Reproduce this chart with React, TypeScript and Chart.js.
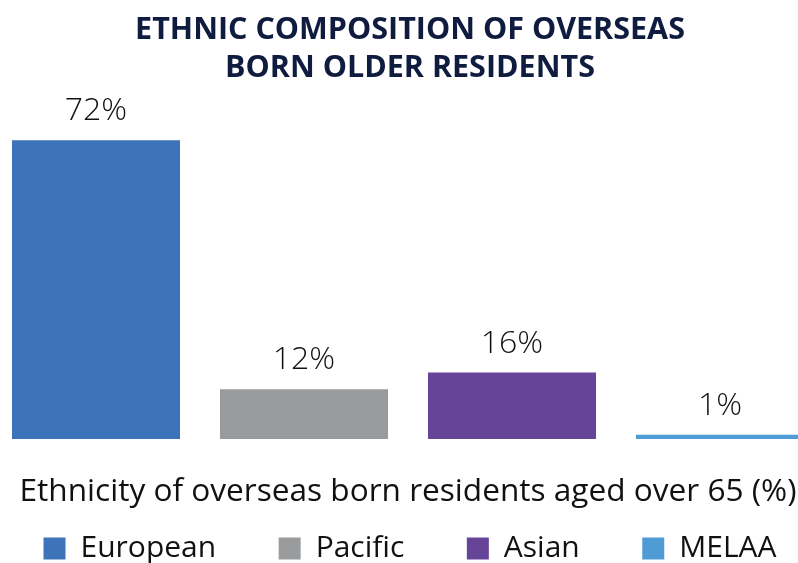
import React, { useEffect, useRef } from "react";
import { Chart, registerables } from "chart.js";

Chart.register(...registerables);

const titleLines = ["ETHNIC COMPOSITION OF OVERSEAS", "BORN OLDER RESIDENTS"];
const xAxisTitle = "Ethnicity of overseas born residents aged over 65 (%)";
const groups = ["European", "Pacific", "Asian", "MELAA"];
const values = [72, 12, 16, 1];
const colors = ["#3d73b9", "#999b9c", "#664598", "#4f9bd6"];
const categories = [""];

const CANVAS_W = 910;
const CANVAS_H = 563;

const valueLabels = {
  id: "valueLabels",
  afterDatasetsDraw(chart: any) {
    const { ctx } = chart;
    ctx.save();
    ctx.font = '300 32px "Open Sans"';
    ctx.fillStyle = "#111111";
    ctx.textAlign = "center";
    ctx.textBaseline = "alphabetic";
    chart.data.datasets.forEach((ds: any, i: number) => {
      const meta = chart.getDatasetMeta(i);
      meta.data.forEach((el: any, j: number) => {
        const v = ds.data[j];
        ctx.fillText(`${v}%`, el.x, el.y - 20);
      });
    });
    ctx.restore();
  },
};

export default function App() {
  const ref = useRef<HTMLCanvasElement | null>(null);
  useEffect(() => {
    if (!ref.current) return;
    const chart = new Chart(ref.current, {
      type: "bar",
      data: {
        labels: categories,
        datasets: groups.map((g, i) => ({
          label: g,
          data: [values[i]],
          backgroundColor: colors[i],
          borderWidth: 0,
          categoryPercentage: 1,
          barPercentage: 0.8077,
        })),
      },
      options: {
        responsive: false,
        animation: false,
        devicePixelRatio: 1,
        layout: { padding: 0 },
        plugins: {
          tooltip: { enabled: false },
          title: {
            display: true,
            text: titleLines,
            color: "#0f1c3f",
            font: { family: "Open Sans", weight: "bold", size: 30.5, lineHeight: 38 / 30.5 },
            padding: { top: 11, bottom: 20 },
          },
          legend: {
            display: true,
            position: "bottom",
            maxHeight: 92,
            labels: {
              boxWidth: 22,
              boxHeight: 22,
              padding: 62.5,
              color: "#111111",
              font: { family: "Open Sans", size: 30 },
            },
          },
        },
        scales: {
          x: {
            display: true,
            grid: { display: false, drawTicks: false },
            border: { display: false },
            ticks: { display: false },
            title: {
              display: true,
              text: xAxisTitle,
              color: "#111111",
              font: { family: "Open Sans", size: 31.6, lineHeight: 1.2 },
              padding: { top: 34, bottom: -39.9 },
            },
          },
          y: {
            display: true,
            position: "left",
            min: 0,
            max: 80,
            grid: { display: false, drawTicks: false },
            border: { display: false },
            ticks: { display: false },
            afterFit(s: any) {
              s.width = 37;
            },
          },
          y2: {
            type: "linear",
            display: true,
            position: "right",
            grid: { display: false, drawTicks: false },
            border: { display: false },
            ticks: { display: false },
            afterFit(s: any) {
              s.width = 41;
            },
          },
        },
      },
      plugins: [valueLabels],
    } as any);
    return () => chart.destroy();
  }, []);
  return (
    <div
      style={{
        position: "fixed",
        left: 0,
        top: 0,
        width: 798,
        height: 563,
        overflow: "hidden",
        background: "#ffffff",
      }}
    >
      <canvas
        ref={ref}
        width={CANVAS_W}
        height={CANVAS_H}
        style={{ position: "absolute", left: -45, top: 0, width: CANVAS_W, height: CANVAS_H }}
      />
    </div>
  );
}
